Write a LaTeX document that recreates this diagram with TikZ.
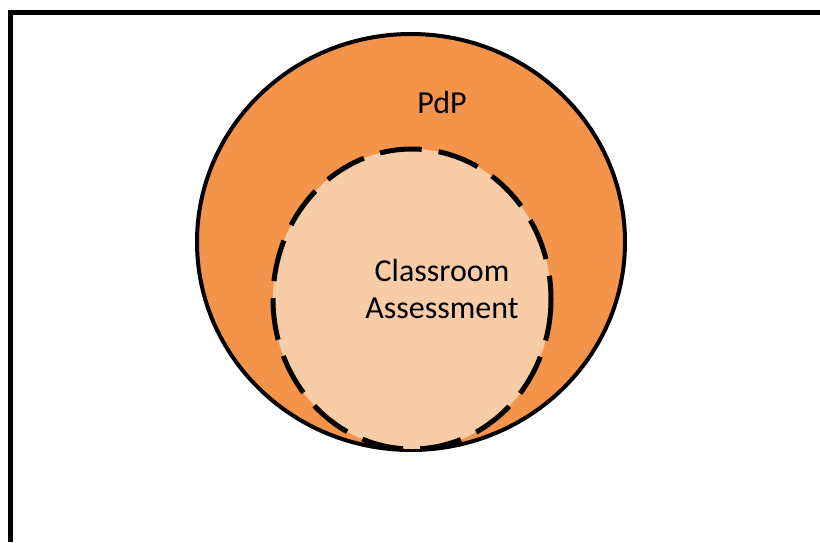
\documentclass[tikz,border=0pt]{standalone}
\usepackage{fontspec}
\setmainfont{Carlito}
\definecolor{outerorange}{HTML}{F4944A}
\definecolor{innerpeach}{HTML}{F8CCA6}
\tikzset{
  lbl/.style={font=\fontsize{32}{38}\selectfont, text=black, anchor=base, inner sep=0pt},
}
\begin{document}
\begin{tikzpicture}[x=1pt,y=-1pt]
\useasboundingbox (0,0) rectangle (820,542);
\fill[white] (0,0) rectangle (820,542);
\draw[line width=5pt] (10,542) -- (10,12) -- (820,12);
\draw[fill=outerorange, line width=4pt] (411,242) ellipse [x radius=214, y radius=208];
\draw[fill=innerpeach, line width=5pt, dash pattern=on 42pt off 17pt] (412,299) ellipse [x radius=139, y radius=150];
\node[lbl] (pdp) at (442,113) {PdP};
\node[lbl] (cls) at (442,281) {Classroom};
\node[lbl] (ass) at (442,318) {Assessment};
\end{tikzpicture}
\end{document}
